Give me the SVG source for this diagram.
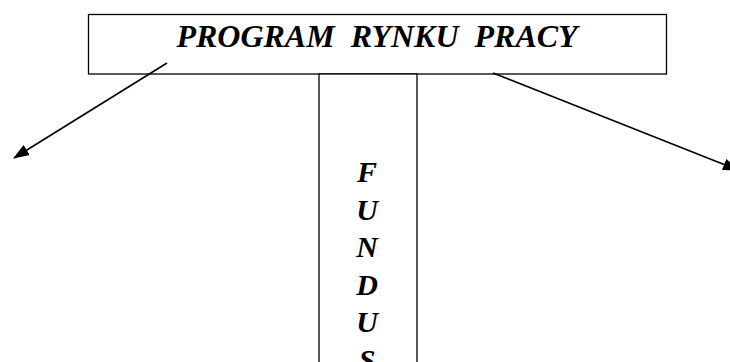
<svg xmlns="http://www.w3.org/2000/svg" width="730" height="362" viewBox="0 0 730 362">
<style>
.box{fill:#fff;stroke:#000;stroke-width:1.3}
.t{font-family:"Liberation Serif","Times New Roman",serif;font-weight:bold;font-style:italic;fill:#000}
.c{stroke:#000;stroke-width:1.6;fill:none}
</style>
<defs>
<marker id="ah" markerWidth="16" markerHeight="12" refX="15" refY="6" orient="auto" markerUnits="userSpaceOnUse">
<path d="M0,0 L16,6 L0,12 Z" fill="#000"/>
</marker>
</defs>
<rect width="730" height="362" fill="#fff"/>
<g id="program">
<rect class="box" x="88.5" y="14.5" width="578" height="59.5"/>
<text class="t" x="377" y="47" font-size="32" text-anchor="middle" xml:space="preserve">PROGRAM  RYNKU  PRACY</text>
</g>
<g id="fundusz">
<rect class="box" x="319" y="74" width="98" height="300"/>
<g class="t" font-size="30" text-anchor="middle">
<text x="367" y="182">F</text>
<text x="367" y="219.5">U</text>
<text x="367" y="257">N</text>
<text x="367" y="294.5">D</text>
<text x="367" y="332">U</text>
<text x="367" y="369.5">S</text>
</g>
</g>
<g id="connectors">
<line class="c" x1="167" y1="63" x2="14" y2="158" marker-end="url(#ah)"/>
<line class="c" x1="493" y1="73" x2="738" y2="170" marker-end="url(#ah)"/>
</g>
</svg>
